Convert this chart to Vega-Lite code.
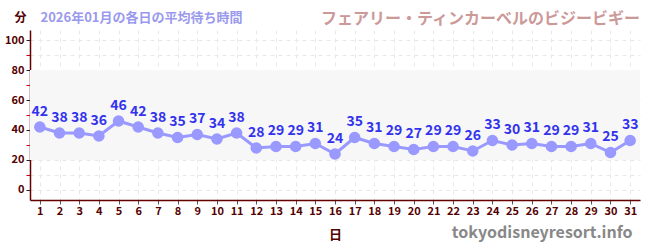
{
  "$schema": "https://vega.github.io/schema/vega-lite/v6.json",
  "width": 610,
  "height": 170,
  "autosize": "none",
  "padding": {"left": 30, "top": 30, "right": 10, "bottom": 50},
  "background": "white",
  "config": {
    "view": {"stroke": null},
    "font": "Noto Sans CJK JP"
  },
  "title": {
    "text": "フェアリー・ティンカーベルのビジービギー",
    "anchor": "end",
    "color": "#cc9999",
    "fontSize": 16,
    "fontWeight": "bold",
    "offset": -16,
    "font": "Noto Sans CJK JP"
  },
  "datasets": {
    "band": [{"lo": 20, "hi": 80}],
    "waits": [
      {"day": 1, "wait": 42}, {"day": 2, "wait": 38}, {"day": 3, "wait": 38},
      {"day": 4, "wait": 36}, {"day": 5, "wait": 46}, {"day": 6, "wait": 42},
      {"day": 7, "wait": 38}, {"day": 8, "wait": 35}, {"day": 9, "wait": 37},
      {"day": 10, "wait": 34}, {"day": 11, "wait": 38}, {"day": 12, "wait": 28},
      {"day": 13, "wait": 29}, {"day": 14, "wait": 29}, {"day": 15, "wait": 31},
      {"day": 16, "wait": 24}, {"day": 17, "wait": 35}, {"day": 18, "wait": 31},
      {"day": 19, "wait": 29}, {"day": 20, "wait": 27}, {"day": 21, "wait": 29},
      {"day": 22, "wait": 29}, {"day": 23, "wait": 26}, {"day": 24, "wait": 33},
      {"day": 25, "wait": 30}, {"day": 26, "wait": 31}, {"day": 27, "wait": 29},
      {"day": 28, "wait": 29}, {"day": 29, "wait": 31}, {"day": 30, "wait": 25},
      {"day": 31, "wait": 33}
    ]
  },
  "resolve": {"axis": {"x": "independent", "y": "independent"}},
  "layer": [
    {
      "data": {"name": "band"},
      "mark": {"type": "rect", "color": "#f7f7f7", "opacity": 1},
      "encoding": {
        "y": {"field": "lo", "type": "quantitative", "axis": null,
              "scale": {"domain": [-6.67, 106.67], "nice": false, "zero": false}},
        "y2": {"field": "hi"}
      }
    },
    {
      "data": {"name": "waits"},
      "layer": [
        {
          "mark": {"type": "line", "color": "#9999ff", "strokeWidth": 3},
          "encoding": {}
        },
        {
          "mark": {"type": "point", "filled": true, "color": "#9999ff", "size": 135, "opacity": 1},
          "encoding": {}
        }
      ],
      "encoding": {
        "x": {
          "field": "day", "type": "quantitative",
          "scale": {"domain": [0.5, 31.5], "nice": false, "zero": false},
          "axis": {
            "orient": "bottom",
            "title": "日",
            "titleColor": "#550000",
            "titleFontSize": 13,
            "titleFontWeight": "bold",
            "titlePadding": 12,
            "values": [1,2,3,4,5,6,7,8,9,10,11,12,13,14,15,16,17,18,19,20,21,22,23,24,25,26,27,28,29,30,31],
            "labelColor": "#550000",
            "labelFontSize": 11,
            "labelFontWeight": "bold",
            "labelPadding": 1,
            "tickColor": "#555555",
            "tickSize": 4,
            "domainColor": "#660000",
            "domainWidth": 1.5,
            "grid": true,
            "gridColor": "#e8e8e8",
            "gridDash": [4, 4]
          }
        },
        "y": {
          "field": "wait", "type": "quantitative",
          "scale": {"domain": [-6.67, 106.67], "nice": false, "zero": false},
          "axis": {
            "orient": "left",
            "title": "分",
            "titleAngle": 0,
            "titleX": -10,
            "titleY": -13,
            "titleAlign": "center",
            "titleBaseline": "middle",
            "titleColor": "#550000",
            "titleFontSize": 12,
            "titleFontWeight": "bold",
            "values": [0,10,20,30,40,50,60,70,80,90,100],
            "labelExpr": "datum.value % 20 == 0 ? datum.label : ''",
            "labelColor": "#550000",
            "labelFontSize": 11,
            "labelFontWeight": "bold",
            "labelPadding": 2,
            "tickColor": {"condition": {"test": "datum.value % 20 == 0", "value": "#222222"}, "value": "#cc0000"},
            "tickSize": 4,
            "domainColor": "#660000",
            "domainWidth": 1.5,
            "grid": true,
            "gridColor": "#e8e8e8",
            "gridDash": [4, 4]
          }
        }
      }
    },
    {
      "data": {"name": "waits"},
      "mark": {"type": "text", "color": "#3333ee", "fontSize": 14, "fontWeight": "bold", "dy": -15, "font": "Noto Sans CJK JP"},
      "encoding": {
        "x": {
          "field": "day", "type": "quantitative",
          "scale": {"domain": [0.5, 31.5], "nice": false, "zero": false},
          "axis": {
            "orient": "top",
            "title": "tokyodisneyresort.info",
            "titleX": 602,
            "titleY": 202,
            "titleAlign": "right",
            "titleBaseline": "middle",
            "titleColor": "#888888",
            "titleFontSize": 16,
            "titleFontWeight": "bold",
            "domain": false, "ticks": false, "labels": false, "grid": false
          }
        },
        "y": {
          "field": "wait", "type": "quantitative",
          "scale": {"domain": [-6.67, 106.67], "nice": false, "zero": false},
          "axis": {
            "orient": "right",
            "title": "2026年01月の各日の平均待ち時間",
            "titleAngle": 0,
            "titleX": -600,
            "titleY": -13,
            "titleAlign": "left",
            "titleBaseline": "middle",
            "titleColor": "#9999ee",
            "titleFontSize": 13,
            "titleFontWeight": "bold",
            "domain": false, "ticks": false, "labels": false, "grid": false
          }
        },
        "text": {"field": "wait", "type": "quantitative"}
      }
    }
  ]
}
